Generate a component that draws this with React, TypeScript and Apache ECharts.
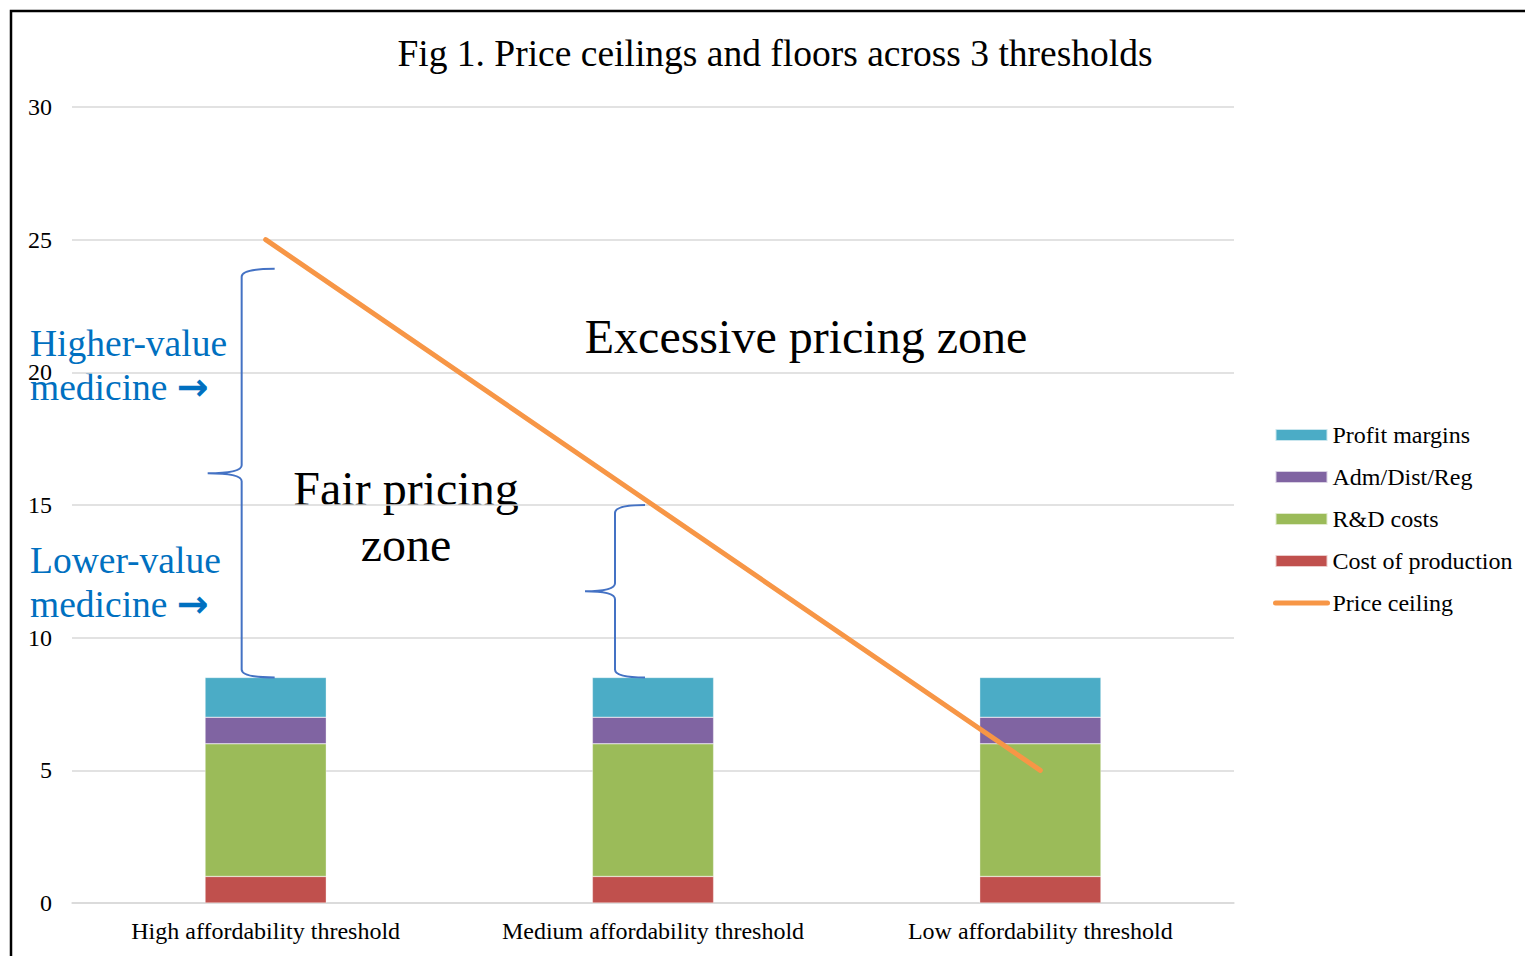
import React, { useEffect, useRef } from "react";
import * as echarts from "echarts";

const categories = [
  "High affordability threshold",
  "Medium affordability threshold",
  "Low affordability threshold",
];
const costOfProduction = [1, 1, 1];
const rdCosts = [5, 5, 5];
const admDistReg = [1, 1, 1];
const profitMargins = [1.5, 1.5, 1.5];
const priceCeiling = [25, 15, 5];
// braces: [category index, low value, high value]
const braces = [
  [0, 8.5, 23.9],
  [1, 8.5, 15],
];
const yTicks = { min: 0, max: 30, interval: 5 };

const FONT = "'Liberation Serif', 'Times New Roman', serif";
const braceGeom = [
  { xv: -24, tip: -58, end: 9 },
  { xv: -38, tip: -68, end: -8 },
];

export default function App() {
  const ref = useRef<HTMLDivElement>(null);
  useEffect(() => {
    if (!ref.current) return;
    const chart = echarts.init(ref.current, null, { renderer: "svg" });
    const barCommon = {
      type: "bar",
      stack: "total",
      barWidth: "31.3%",
      itemStyle: { borderColor: "rgba(255,255,255,0.7)", borderWidth: 0.5 },
    };
    const blueRich = {
      arr: { fontFamily: "'DejaVu Sans', sans-serif", fontWeight: "bold", fontSize: 38, fill: "#0070C0", color: "#0070C0" },
    };
    chart.setOption({
      animation: false,
      backgroundColor: "#fff",
      textStyle: { fontFamily: FONT },
      grid: { left: 72, right: 291, top: 107, bottom: 53, containLabel: false },
      legend: {
        orient: "vertical",
        left: 1273,
        top: 423,
        padding: 0,
        itemWidth: 52,
        itemHeight: 12,
        itemGap: 18,
        data: [
          { name: "Profit margins", icon: "rect" },
          { name: "Adm/Dist/Reg", icon: "rect" },
          { name: "R&D costs", icon: "rect" },
          { name: "Cost of production", icon: "rect" },
          {
            name: "Price ceiling",
            icon: "inherit",
            lineStyle: { width: 5, cap: "round", color: "#F79646" },
            itemStyle: { color: "rgba(0,0,0,0)", borderColor: "rgba(0,0,0,0)", borderWidth: 0, opacity: 0 },
          },
        ],
        textStyle: { fontFamily: FONT, fontSize: 24, color: "#000" },
      },
      xAxis: {
        type: "category",
        data: categories,
        axisTick: { show: false },
        axisLine: { lineStyle: { color: "#D9D9D9", width: 1.5 } },
        axisLabel: { fontFamily: FONT, fontSize: 24, color: "#000", margin: 16, interval: 0 },
      },
      yAxis: {
        type: "value",
        min: yTicks.min,
        max: yTicks.max,
        interval: yTicks.interval,
        axisLine: { show: false },
        axisTick: { show: false },
        splitLine: { lineStyle: { color: "#D9D9D9", width: 1.5 } },
        axisLabel: { fontFamily: FONT, fontSize: 24, color: "#000", margin: 20 },
      },
      series: [
        { ...barCommon, name: "Cost of production", data: costOfProduction, itemStyle: { ...barCommon.itemStyle, color: "#C0504D" } },
        { ...barCommon, name: "R&D costs", data: rdCosts, itemStyle: { ...barCommon.itemStyle, color: "#9BBB59" } },
        { ...barCommon, name: "Adm/Dist/Reg", data: admDistReg, itemStyle: { ...barCommon.itemStyle, color: "#8064A2" } },
        { ...barCommon, name: "Profit margins", data: profitMargins, itemStyle: { ...barCommon.itemStyle, color: "#4BACC6" } },
        {
          type: "line",
          name: "Price ceiling",
          data: priceCeiling,
          symbol: "none",
          showSymbol: false,
          color: "#F79646",
          lineStyle: { color: "#F79646", width: 5, cap: "round" },
          z: 5,
        },
        {
          type: "custom",
          name: "braces",
          data: braces,
          z: 6,
          renderItem: (params: any, api: any) => {
            const g = braceGeom[params.dataIndex];
            const cat = api.value(0);
            const [cx, yTop] = api.coord([cat, api.value(2)]);
            const [, yBot] = api.coord([cat, api.value(1)]);
            const xv = cx + g.xv;
            const tip = cx + g.tip;
            const xe = cx + g.end;
            const mid = (yTop + yBot) / 2;
            const r = 8;
            const d =
              `M${xe},${yTop} Q${xv},${yTop} ${xv},${yTop + r} ` +
              `L${xv},${mid - r} Q${xv},${mid} ${tip},${mid} ` +
              `Q${xv},${mid} ${xv},${mid + r} L${xv},${yBot - r} ` +
              `Q${xv},${yBot} ${xe},${yBot}`;
            return {
              type: "path",
              shape: { pathData: d },
              style: { fill: "none", stroke: "#4472C4", lineWidth: 2 },
            };
          },
        },
      ],
      graphic: [
        {
          type: "rect",
          shape: { x: 11, y: 11, width: 3000, height: 3000 },
          style: { fill: "none", stroke: "#000", lineWidth: 2.5 },
          silent: true,
        },
        {
          type: "text",
          x: 775,
          y: 53,
          style: { text: "Fig 1. Price ceilings and floors across 3 thresholds", font: `37.5px ${FONT}`, fill: "#000", align: "center", verticalAlign: "middle" },
        },
        {
          type: "text",
          x: 806,
          y: 336,
          style: { text: "Excessive pricing zone", font: `48px ${FONT}`, fill: "#000", align: "center", verticalAlign: "middle" },
        },
        {
          type: "text",
          x: 406,
          y: 488,
          style: { text: "Fair pricing", font: `48px ${FONT}`, fill: "#000", align: "center", verticalAlign: "middle" },
        },
        {
          type: "text",
          x: 406,
          y: 544,
          style: { text: "zone", font: `48px ${FONT}`, fill: "#000", align: "center", verticalAlign: "middle" },
        },
        {
          type: "text",
          x: 30,
          y: 343,
          style: { text: "Higher-value", font: `37.5px ${FONT}`, fill: "#0070C0", align: "left", verticalAlign: "middle" },
        },
        {
          type: "text",
          x: 30,
          y: 387,
          style: { text: "medicine {arr|\u2192}", font: `37.5px ${FONT}`, fill: "#0070C0", align: "left", verticalAlign: "middle", rich: blueRich },
        },
        {
          type: "text",
          x: 30,
          y: 560,
          style: { text: "Lower-value", font: `37.5px ${FONT}`, fill: "#0070C0", align: "left", verticalAlign: "middle" },
        },
        {
          type: "text",
          x: 30,
          y: 604,
          style: { text: "medicine {arr|\u2192}", font: `37.5px ${FONT}`, fill: "#0070C0", align: "left", verticalAlign: "middle", rich: blueRich },
        },
      ],
    });
    return () => chart.dispose();
  }, []);
  return (
    <div
      ref={ref}
      style={{ position: "fixed", left: 0, top: 0, width: 1525, height: 956, background: "#fff" }}
    />
  );
}
